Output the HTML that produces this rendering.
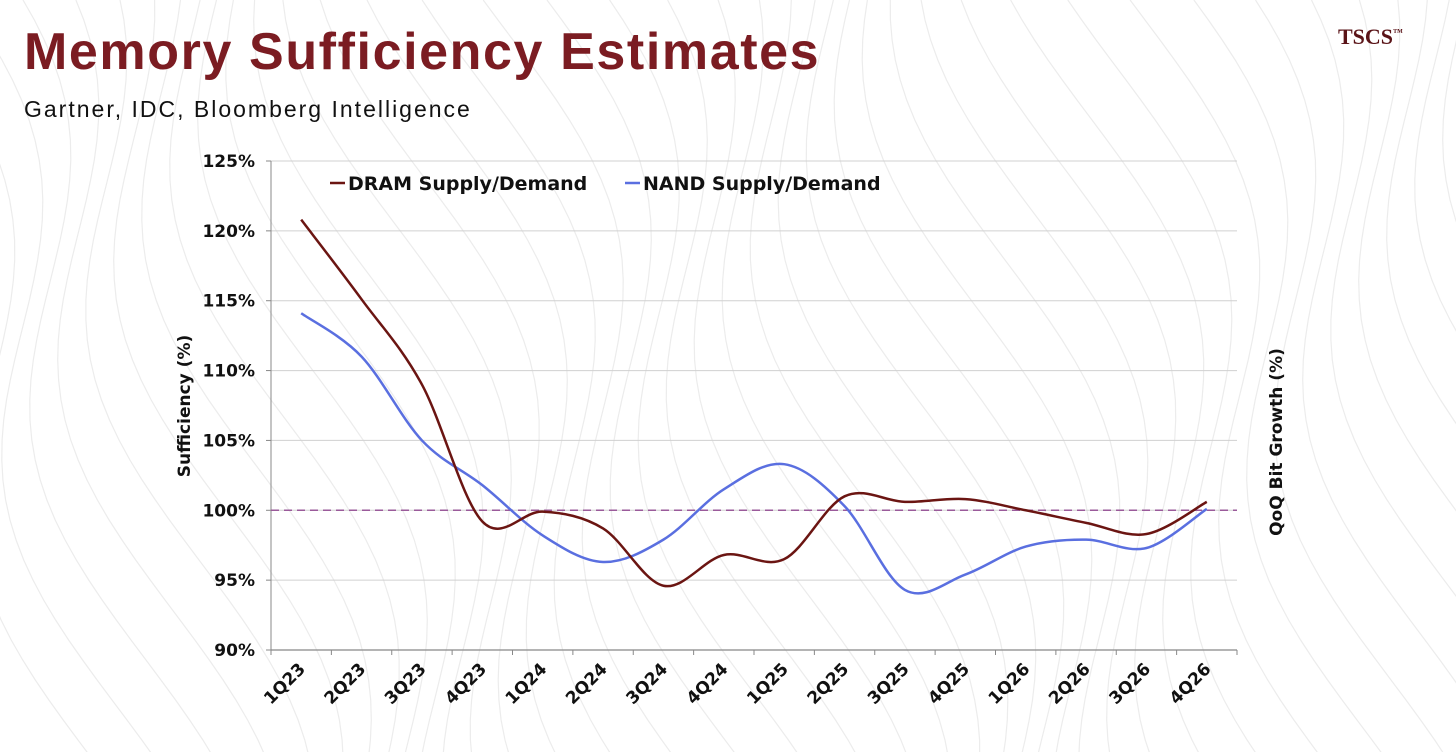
<!DOCTYPE html>
<html><head><meta charset="utf-8">
<style>
body{margin:0;width:1456px;height:752px;background:#fff;overflow:hidden;position:relative;font-family:"Liberation Sans",sans-serif}
#title{position:absolute;left:24px;top:22px;font-size:52px;font-weight:bold;color:#7b1c22;letter-spacing:1.6px}
#sub{position:absolute;left:24px;top:96px;font-size:23px;color:#111;letter-spacing:2px}
#logo{position:absolute;left:1338px;top:24px;font-family:"Liberation Serif",serif;font-size:22px;font-weight:bold;color:#5a1418}
svg{position:absolute;left:0;top:0}
</style></head><body>
<svg id="bg" width="1456" height="752"></svg>
<div id="title">Memory Sufficiency Estimates</div>
<div id="sub">Gartner, IDC, Bloomberg Intelligence</div>
<div id="logo">TSCS<sup style="font-size:10px">™</sup></div>
<svg id="chart" width="1456" height="752"></svg>
<script>
const categories=["1Q23","2Q23","3Q23","4Q23","1Q24","2Q24","3Q24","4Q24","1Q25","2Q25","3Q25","4Q25","1Q26","2Q26","3Q26","4Q26"];
const dramValues=[120.8,115.1,109.0,99.2,99.9,98.7,94.6,96.8,96.5,101.0,100.6,100.8,100.0,99.1,98.3,100.6];
const nandValues=[114.1,111.0,105.0,101.8,98.2,96.3,97.9,101.5,103.3,100.3,94.3,95.4,97.4,97.9,97.3,100.1];
const yTicks=[90,95,100,105,110,115,120,125];
const refLine=100;
const NS="http://www.w3.org/2000/svg";
const L=271,R=1237,T=161,B=650,ymin=90,ymax=125;
const step=(R-L)/categories.length;
const xs=i=>L+step*(i+0.5);
const ys=v=>B-(v-ymin)/(ymax-ymin)*(B-T);
const svg=document.getElementById('chart');
function el(t,a,p){const e=document.createElementNS(NS,t);for(const k in a)e.setAttribute(k,a[k]);(p||svg).appendChild(e);return e;}
const bg=document.getElementById('bg');
for(let k=0;k<40;k++){let d="";for(let y=0;y<=760;y+=20){const x=k*40-100+60*Math.sin(y/120+k*0.4)+y*0.25;d+=(y?"L":"M")+x.toFixed(1)+","+y;}
el('path',{d:d,fill:'none',stroke:'#ececec','stroke-width':1.2},bg);}
const FONT='DejaVu Sans, sans-serif';
yTicks.forEach(v=>{
const g=el('line',{x1:L,x2:R,y1:ys(v),y2:ys(v),stroke:'#d0d0d0','stroke-width':1});

const t=el('text',{x:L-16,y:ys(v)+6,'text-anchor':'end','font-family':FONT,'font-size':17,'font-weight':'bold',fill:'#111'});
t.textContent=v+"%";

el('line',{x1:L-5,x2:L,y1:ys(v),y2:ys(v),stroke:'#888'});
});
el('line',{x1:L,x2:L,y1:T,y2:B,stroke:'#888','stroke-width':1});
el('line',{x1:L,x2:R,y1:B,y2:B,stroke:'#888','stroke-width':1.2});
for(let i=0;i<=categories.length;i++)el('line',{x1:L+step*i,x2:L+step*i,y1:B,y2:B+5,stroke:'#888'});
categories.forEach((c,i)=>{
const x=xs(i)+5,y=B+20;
const t=el('text',{x:x,y:y,'text-anchor':'end',transform:`rotate(-45 ${x} ${y})`,'font-family':FONT,'font-size':17,'font-weight':'bold',fill:'#111'});
t.textContent=c;

});
const rl=el('line',{x1:L,x2:R,y1:ys(refLine),y2:ys(refLine),stroke:'#9a5a9a','stroke-width':1.5,'stroke-dasharray':'8,5'});

function smooth(vals){const p=vals.map((v,i)=>[xs(i),ys(v)]);let d=`M${p[0][0]},${p[0][1]}`;
for(let i=0;i<p.length-1;i++){const p0=p[i-1]||p[i],p1=p[i],p2=p[i+1],p3=p[i+2]||p2;
d+=`C${p1[0]+(p2[0]-p0[0])/6},${p1[1]+(p2[1]-p0[1])/6} ${p2[0]-(p3[0]-p1[0])/6},${p2[1]-(p3[1]-p1[1])/6} ${p2[0]},${p2[1]}`;}return d;}
const nl=el('path',{d:smooth(nandValues),fill:'none',stroke:'#5a6fe0','stroke-width':2.5});

const dl=el('path',{d:smooth(dramValues),fill:'none',stroke:'#6b1512','stroke-width':2.5});

[[330,'#6b1512','DRAM Supply/Demand'],[625,'#5a6fe0','NAND Supply/Demand']].forEach(([x,c,s])=>{
el('line',{x1:x,x2:x+15,y1:183,y2:183,stroke:c,'stroke-width':2.5});
const t=el('text',{x:x+18,y:190,'font-family':FONT,'font-size':19,'font-weight':'bold',fill:'#111'});t.textContent=s;

});
const ya=el('text',{x:0,y:0,transform:'translate(190,406) rotate(-90)','text-anchor':'middle','font-family':FONT,'font-size':17,'font-weight':'bold',fill:'#111'});
ya.textContent="Sufficiency (%)";
const yb=el('text',{x:0,y:0,transform:'translate(1282,442) rotate(-90)','text-anchor':'middle','font-family':FONT,'font-size':17,'font-weight':'bold',fill:'#111'});
yb.textContent="QoQ Bit Growth (%)";
</script>
</body></html>
